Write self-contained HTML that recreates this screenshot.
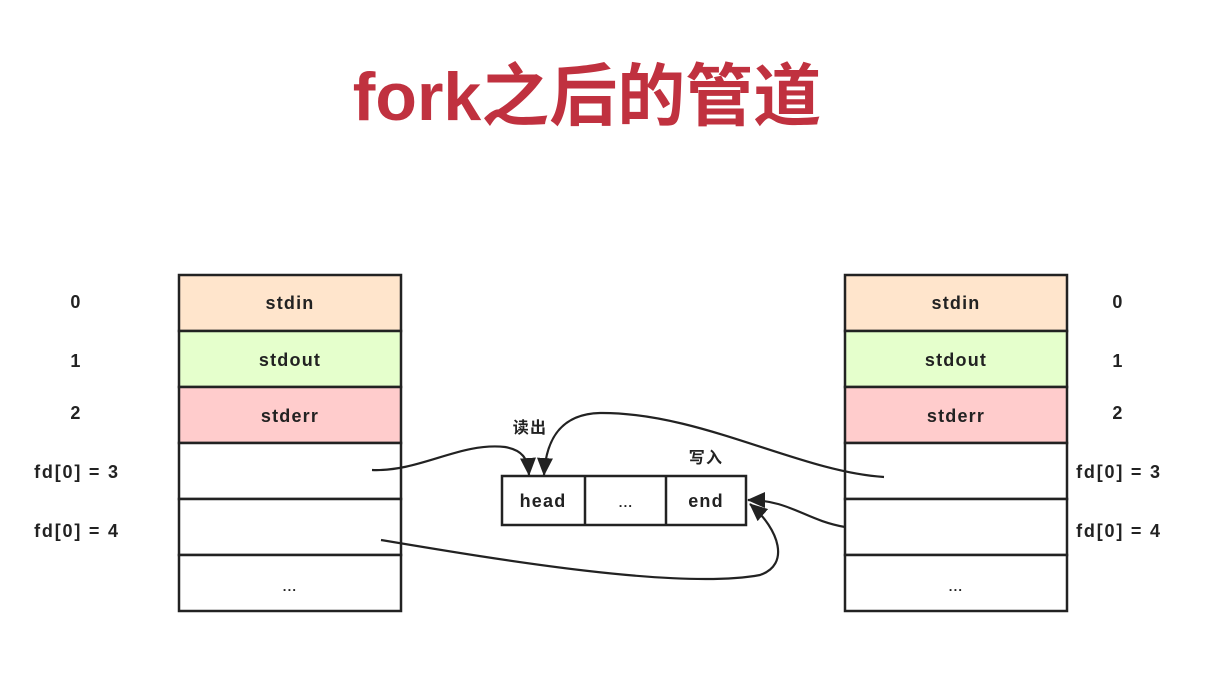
<!DOCTYPE html>
<html><head><meta charset="utf-8"><style>
html,body{margin:0;padding:0;background:#fff;width:1221px;height:679px;overflow:hidden}
</style></head><body>
<svg width="1221" height="679" xmlns="http://www.w3.org/2000/svg" font-family="'Liberation Sans','Noto Sans CJK SC',sans-serif">
<defs>
<marker id="ah2" markerWidth="18" markerHeight="16" refX="17" refY="8" orient="auto" markerUnits="userSpaceOnUse">
<path d="M0,0 L18,8 L0,16 Z" fill="#222"/></marker>
</defs>
<text x="587" y="120" text-anchor="middle" font-size="68" font-weight="bold" fill="#c0313f" font-family="'Liberation Sans','Noto Sans CJK SC',sans-serif">fork之后的管道</text>

<g stroke="#222" stroke-width="2.5">
<rect x="179" y="275" width="222" height="56" fill="#ffe5cc"/>
<rect x="179" y="331" width="222" height="56" fill="#e5ffcc"/>
<rect x="179" y="387" width="222" height="56" fill="#ffcccc"/>
<rect x="179" y="443" width="222" height="56" fill="#fff"/>
<rect x="179" y="499" width="222" height="56" fill="#fff"/>
<rect x="179" y="555" width="222" height="56" fill="#fff"/>
<rect x="845" y="275" width="222" height="56" fill="#ffe5cc"/>
<rect x="845" y="331" width="222" height="56" fill="#e5ffcc"/>
<rect x="845" y="387" width="222" height="56" fill="#ffcccc"/>
<rect x="845" y="443" width="222" height="56" fill="#fff"/>
<rect x="845" y="499" width="222" height="56" fill="#fff"/>
<rect x="845" y="555" width="222" height="56" fill="#fff"/>
<rect x="502" y="476" width="244" height="49" fill="#fff"/>
<line x1="585" y1="476" x2="585" y2="525"/>
<line x1="666" y1="476" x2="666" y2="525"/>
</g>

<g font-size="18" font-weight="bold" fill="#222" text-anchor="middle" letter-spacing="1.2">
<text x="290" y="309">stdin</text><text x="290" y="366">stdout</text><text x="290" y="422">stderr</text><text x="290" y="591" font-size="13">...</text>
<text x="956" y="309">stdin</text><text x="956" y="366">stdout</text><text x="956" y="422">stderr</text><text x="956" y="591" font-size="13">...</text>
<text x="76" y="308">0</text><text x="76" y="367">1</text><text x="76" y="419">2</text>
<text x="77" y="478" letter-spacing="1.8">fd[0] = 3</text><text x="77" y="537" letter-spacing="1.8">fd[0] = 4</text>
<text x="1118" y="308">0</text><text x="1118" y="367">1</text><text x="1118" y="419">2</text>
<text x="1119" y="478" letter-spacing="1.8">fd[0] = 3</text><text x="1119" y="537" letter-spacing="1.8">fd[0] = 4</text>
<text x="543" y="507">head</text><text x="626" y="507" font-size="13">...</text><text x="706" y="507">end</text>
<text x="530" y="433" font-size="16">读出</text><text x="706" y="463" font-size="16">写入</text>
</g>

<g fill="none" stroke="#222" stroke-width="2.2">
<path d="M372,470 C420,472 460,442 505,447 C522,450 528,458 529,475" marker-end="url(#ah2)"/>
<path d="M884,477 C800,472 700,412 600,413 C560,414 546,440 544,475" marker-end="url(#ah2)"/>
<path d="M845,527 C805,520 790,500 748,500" marker-end="url(#ah2)"/>
<path d="M381,540 C500,560 680,590 760,575 C790,565 780,530 750,504" marker-end="url(#ah2)"/>
</g>
</svg>
</body></html>
